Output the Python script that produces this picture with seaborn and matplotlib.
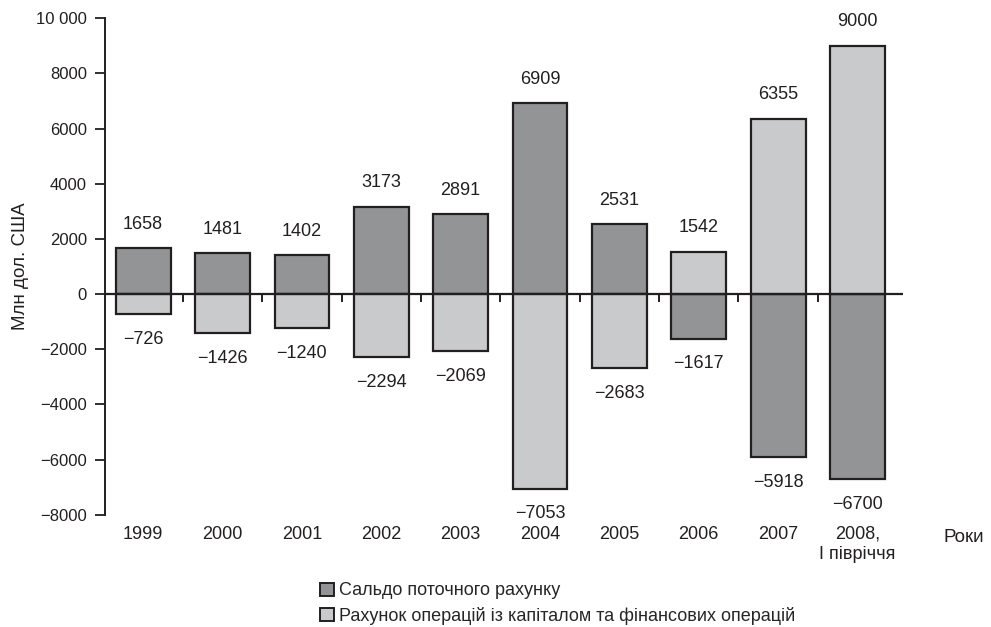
import matplotlib
matplotlib.use("Agg")
import matplotlib.pyplot as plt
import seaborn as sns
import pandas as pd
from matplotlib.patches import Patch
from matplotlib.ticker import FuncFormatter

years = ["1999", "2000", "2001", "2002", "2003", "2004", "2005", "2006", "2007", "2008,\nІ півріччя"]
current_account = [1658, 1481, 1402, 3173, 2891, 6909, 2531, -1617, -5918, -6700]
capital_financial = [-726, -1426, -1240, -2294, -2069, -7053, -2683, 1542, 6355, 9000]
series_names = ["Сальдо поточного рахунку",
                "Рахунок операцій із капіталом та фінансових операцій"]
y_ticks = [-8000, -6000, -4000, -2000, 0, 2000, 4000, 6000, 8000, 10000]

dark = "#939497"
light = "#c9cacc"
edge = "#231f20"
txt = "#231f20"

df = pd.DataFrame({
    "year": years * 2,
    "value": current_account + capital_financial,
    "series": [series_names[0]] * len(years) + [series_names[1]] * len(years),
})

sns.set_theme(style="white")
plt.rcParams["font.family"] = ["Liberation Sans", "DejaVu Sans"]

fig = plt.figure(figsize=(9.91, 6.27), dpi=100)
ax = fig.add_axes([0.106, 0.179, 0.805, 0.792])

sns.barplot(data=df, x="year", y="value", hue="series", dodge=False,
            palette=[dark, light], edgecolor=edge, linewidth=1.6,
            width=0.69, legend=False, ax=ax)

# value labels above positive bars, below negative ones
for cont in ax.containers:
    for rect in cont:
        h = rect.get_height()
        xc = rect.get_x() + rect.get_width() / 2
        if h >= 0:
            ax.annotate(f"{h:.0f}", (xc, h), xytext=(0, 11), textcoords="offset points",
                        ha="center", va="bottom", fontsize=13, color=txt)
        else:
            ax.annotate(f"\u2212{abs(h):.0f}", (xc, h), xytext=(0, -12), textcoords="offset points",
                        ha="center", va="top", fontsize=13, color=txt)

ax.set_ylim(-8000, 10000)
ax.set_xlim(-0.48, 9.57)
ax.set_yticks(y_ticks)


def fmt(v, _):
    v = int(round(v))
    s = f"{abs(v):,}".replace(",", " ") if abs(v) >= 10000 else f"{abs(v)}"
    return ("\u2212" if v < 0 else "") + s


ax.yaxis.set_major_formatter(FuncFormatter(fmt))
ax.axhline(0, color=edge, lw=1.6, zorder=5)
# small separator ticks between categories on the zero line
ax.vlines([i + 0.5 for i in range(len(years) - 1)], 0, -280, color=edge, lw=1.4, zorder=5)

for s in ["top", "right", "bottom"]:
    ax.spines[s].set_visible(False)
ax.spines["left"].set_color(edge)
ax.spines["left"].set_linewidth(1.4)
ax.tick_params(axis="y", direction="out", length=7, width=1.3, color=edge,
               labelsize=12, labelcolor=txt, pad=6, left=True)
ax.tick_params(axis="x", length=0, labelsize=13, labelcolor=txt, pad=8)
for lab in ax.get_xticklabels():
    lab.set_linespacing(1.25)
ax.set_xlabel("")
ax.set_ylabel("Млн дол. США", fontsize=13.5, color=txt, labelpad=5)

fig.text(0.973, 0.143, "Роки", ha="center", va="center", fontsize=13.5, color=txt)

handles = [Patch(facecolor=dark, edgecolor=edge, linewidth=1.4),
           Patch(facecolor=light, edgecolor=edge, linewidth=1.4)]
fig.legend(handles, series_names, loc="upper left", bbox_to_anchor=(0.323, 0.071),
           frameon=False, fontsize=13, handlelength=0.75, handleheight=0.75,
           handletextpad=0.3, labelspacing=0.4, borderpad=0, borderaxespad=0)

fig.savefig("out.png", dpi=100)
